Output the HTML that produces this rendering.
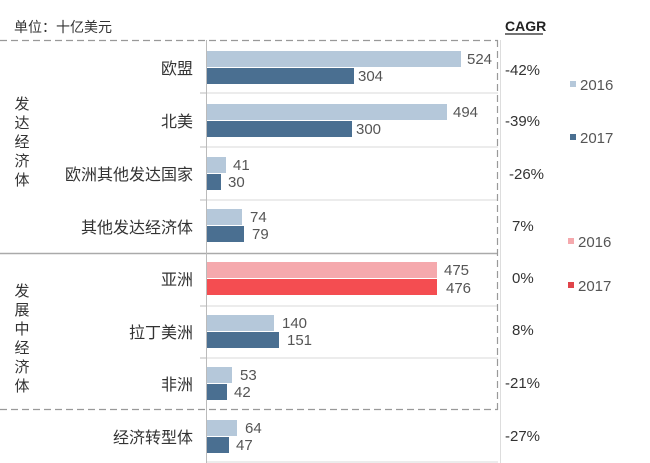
<!DOCTYPE html>
<html><head><meta charset="utf-8"><style>
html,body{margin:0;padding:0;background:#fff;}
svg{display:block;font-family:"Liberation Sans","Noto Sans CJK SC",sans-serif;}
</style></head><body>
<svg width="650" height="463" viewBox="0 0 650 463" xmlns="http://www.w3.org/2000/svg">
<text x="14" y="32" font-size="14" fill="#333">单位：十亿美元</text>
<text x="505" y="31" font-size="14" font-weight="bold" fill="#222">CAGR</text>
<line x1="505" y1="34" x2="543" y2="34" stroke="#222" stroke-width="1.3"/>
<g stroke="#d9d9d9" stroke-width="1">
<line x1="206" y1="93" x2="498" y2="93"/>
<line x1="206" y1="147" x2="498" y2="147"/>
<line x1="206" y1="200" x2="498" y2="200"/>
<line x1="206" y1="306" x2="498" y2="306"/>
<line x1="206" y1="358" x2="498" y2="358"/>
<line x1="206" y1="462" x2="498" y2="462"/>
</g>
<g stroke="#bbb" stroke-width="1">
<line x1="200" y1="93" x2="206" y2="93"/>
<line x1="200" y1="147" x2="206" y2="147"/>
<line x1="200" y1="200" x2="206" y2="200"/>
<line x1="200" y1="306" x2="206" y2="306"/>
<line x1="200" y1="358" x2="206" y2="358"/>
</g>
<line x1="0" y1="253.5" x2="498" y2="253.5" stroke="#aaa" stroke-width="1.5"/>
<line x1="206.5" y1="40" x2="206.5" y2="463" stroke="#bbb" stroke-width="1"/>
<line x1="500.5" y1="40" x2="500.5" y2="463" stroke="#ddd" stroke-width="1"/>
<g stroke="#999" stroke-width="1.2" stroke-dasharray="7,4" fill="none">
<line x1="0" y1="40.5" x2="498" y2="40.5"/>
<line x1="0" y1="409.5" x2="498" y2="409.5"/>
<line x1="497.5" y1="40" x2="497.5" y2="410"/>
</g>
<g>
<rect x="207" y="51" width="254" height="16" fill="#b5c8da"/>
<rect x="207" y="68" width="147" height="16" fill="#4a6f91"/>
<rect x="207" y="104" width="240" height="16" fill="#b5c8da"/>
<rect x="207" y="121" width="145" height="16" fill="#4a6f91"/>
<rect x="207" y="157" width="19" height="16" fill="#b5c8da"/>
<rect x="207" y="174" width="14" height="16" fill="#4a6f91"/>
<rect x="207" y="209" width="35" height="16" fill="#b5c8da"/>
<rect x="207" y="226" width="37" height="16" fill="#4a6f91"/>
<rect x="207" y="262" width="230" height="16" fill="#f5a9ad"/>
<rect x="207" y="279" width="230" height="16" fill="#f44d51"/>
<rect x="207" y="315" width="67" height="16" fill="#b5c8da"/>
<rect x="207" y="332" width="72" height="16" fill="#4a6f91"/>
<rect x="207" y="367" width="25" height="16" fill="#b5c8da"/>
<rect x="207" y="384" width="20" height="16" fill="#4a6f91"/>
<rect x="207" y="420" width="30" height="16" fill="#b5c8da"/>
<rect x="207" y="437" width="22" height="16" fill="#4a6f91"/>
</g>
<g font-size="15" fill="#555">
<text x="467" y="64">524</text><text x="358" y="81">304</text>
<text x="453" y="117">494</text><text x="356" y="134">300</text>
<text x="233" y="170">41</text><text x="228" y="187">30</text>
<text x="250" y="222">74</text><text x="252" y="239">79</text>
<text x="444" y="275">475</text><text x="446" y="293">476</text>
<text x="282" y="328">140</text><text x="287" y="345">151</text>
<text x="240" y="380">53</text><text x="234" y="397">42</text>
<text x="245" y="433">64</text><text x="236" y="450">47</text>
</g>
<g font-size="16" fill="#333" text-anchor="end">
<text x="193" y="74">欧盟</text>
<text x="193" y="127">北美</text>
<text x="193" y="180">欧洲其他发达国家</text>
<text x="193" y="233">其他发达经济体</text>
<text x="193" y="285">亚洲</text>
<text x="193" y="338">拉丁美洲</text>
<text x="193" y="390">非洲</text>
<text x="193" y="443">经济转型体</text>
</g>
<g font-size="15" fill="#333" text-anchor="middle">
<text x="22" y="109">发</text><text x="22" y="128">达</text><text x="22" y="147">经</text><text x="22" y="166">济</text><text x="22" y="185">体</text>
<text x="22" y="296">发</text><text x="22" y="315">展</text><text x="22" y="334">中</text><text x="22" y="353">经</text><text x="22" y="372">济</text><text x="22" y="391">体</text>
</g>
<g font-size="15" fill="#333">
<text x="505" y="75">-42%</text>
<text x="505" y="126">-39%</text>
<text x="509" y="179">-26%</text>
<text x="512" y="231">7%</text>
<text x="512" y="283">0%</text>
<text x="512" y="335">8%</text>
<text x="505" y="388">-21%</text>
<text x="505" y="441">-27%</text>
</g>
<rect x="570" y="81" width="6" height="6" fill="#b5c8da"/>
<text x="580" y="90" font-size="15" fill="#555">2016</text>
<rect x="570" y="134" width="6" height="6" fill="#4a6f91"/>
<text x="580" y="143" font-size="15" fill="#555">2017</text>
<rect x="568" y="238" width="6" height="6" fill="#f5a9ad"/>
<text x="578" y="247" font-size="15" fill="#555">2016</text>
<rect x="568" y="282" width="6" height="6" fill="#e0444a"/>
<text x="578" y="291" font-size="15" fill="#555">2017</text>
</svg>
</body></html>
